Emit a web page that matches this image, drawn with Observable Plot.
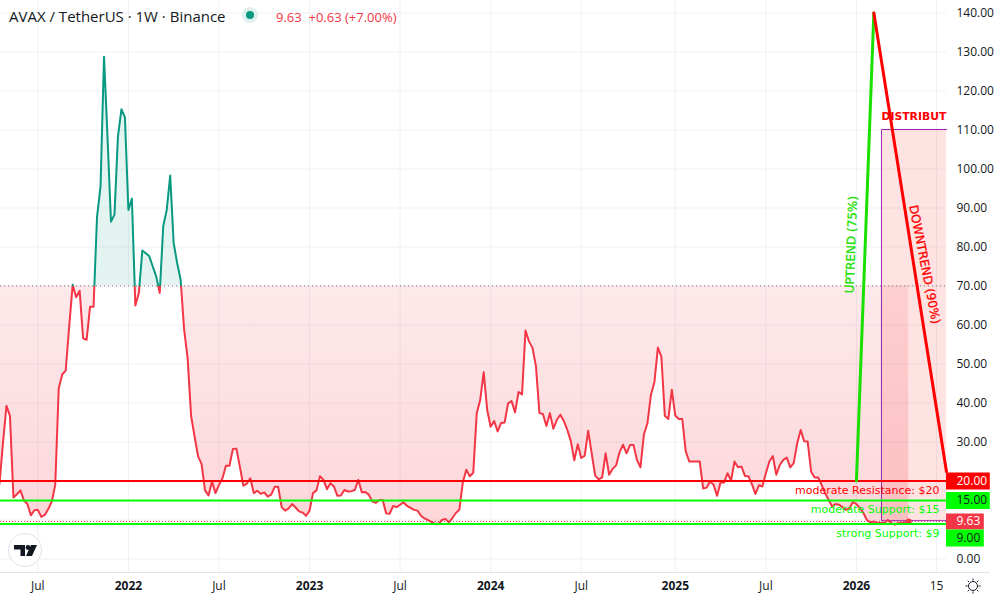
<!DOCTYPE html>
<html lang="en">
<head>
    <meta charset="UTF-8">
    <title>AVAX / TetherUS</title>
    <script src="https://cdn.jsdelivr.net/npm/d3@7"></script>
    <script src="https://cdn.jsdelivr.net/npm/@observablehq/plot@0.6"></script>
    <style>
        body { margin: 0; background: #fff; }
        #chart { position: relative; width: 1000px; height: 600px; overflow: hidden; }
        #chart svg { display: block; }
        #legend { position: absolute; left: 9px; top: 6px; font: 15px "Open Sans", sans-serif; color: #131722; white-space: nowrap; }
        #legend .dot { position: absolute; left: 234px; top: 2px; width: 8px; height: 8px; margin: 3px; border-radius: 50%; background: #089981; box-shadow: 0 0 0 4px #dff1ee; }
        #legend .quote { position: absolute; left: 267px; top: 2px; font-size: 13px; color: #f23645; }
        #logo { position: absolute; left: 8px; top: 533px; width: 32px; height: 32px; border: 1px solid #e0e3eb; border-radius: 50%; background: #fff; }
        #sun { position: absolute; left: 965px; top: 578px; }
    </style>
</head>
<body>
    <div id="chart">
        <div id="legend">AVAX / TetherUS · 1W · Binance<span class="dot"></span><span class="quote">9.63 &nbsp;+0.63 (+7.00%)</span></div>
    </div>

    <script>
    // weekly closes
    const firstWeek = new Date("2021-04-19");
    const closes = [
        19.3, 29.8, 39.3, 36.7, 15.8, 16.6, 17.6, 15, 14.1, 11.2, 12.5, 12.6, 10.8, 11.3, 12.8, 14.7, 19, 43.8, 47.3, 48.3,
        59.6, 70.3, 67.1, 68.8, 56.6, 56.2, 64.7, 64.7, 87.8, 95.5, 128.8, 108.3, 86.5, 88.3, 108.3, 115.3, 113.3, 89.5, 92.4, 65,
        68.2, 79.1, 78.4, 77.6, 75, 72.4, 68.2, 85.3, 89.5, 98.3, 81, 75.9, 71.6, 58.8, 51.5, 36.7, 31.4, 26.3, 24.4, 17.6,
        16.3, 19.9, 16.9, 19, 20.7, 23.9, 23.9, 28.2, 28.3, 23.7, 18.8, 19.3, 20.7, 16.9, 17.5, 16.7, 17.1, 16, 16.5, 18.5,
        18.5, 13.3, 12.4, 13, 14.1, 13.2, 12.2, 11.9, 11.1, 12.4, 16.9, 17.6, 21.2, 20.3, 17.9, 19.4, 18.6, 16.2, 16.3, 17.7,
        17.3, 17.4, 17.7, 20.3, 17.1, 17.2, 16.5, 14.8, 14.4, 15.1, 15.1, 11.7, 11.6, 13.6, 13.3, 13.9, 14.5, 13.6, 13.1, 12.6,
        12.4, 11.1, 10.4, 10, 9.5, 9, 8.9, 10, 10.3, 9.4, 10.5, 11.8, 12.6, 19.6, 22.9, 21.2, 22.1, 37.4, 40.8, 47.9,
        38.2, 33.9, 35.4, 32.7, 34.9, 35, 39.9, 40.5, 37.6, 42.8, 42.2, 58.6, 55.8, 54.2, 49.4, 37.4, 37.2, 34.1, 37.4, 33.4,
        35.7, 37, 35.4, 33.1, 30.3, 25.3, 29.4, 25.9, 26.5, 32.9, 27.1, 21.4, 20.4, 20.9, 27.1, 21.6, 23.1, 24, 27.4, 29.3,
        27.1, 29.2, 29.2, 25.4, 23.5, 32, 34.8, 42.1, 45.3, 54.2, 51.9, 36.7, 35.9, 43.4, 36.7, 35.9, 35.9, 27.6, 25, 25,
        25, 25, 18.1, 18.3, 19.9, 19, 16.2, 19.7, 19.6, 22, 20.1, 25, 23.5, 23.7, 21.3, 21.2, 19.2, 16.7, 18.9, 18.6,
        22, 25, 26.4, 21.6, 24.1, 25.4, 26, 23.5, 24.6, 29.7, 33.1, 30.2, 30.1, 22.4, 20.9, 20.9, 19, 16.9, 15.2, 13.5,
        14.1, 13.9, 13.3, 12.6, 13, 14.6, 14.1, 13, 11.8, 10, 9.4, 9.6, 9.2, 9.2, 9.2, 10, 9.2, 8.8, 9.2, 9.2,
        9.4, 9.63
    ];
    const priceWeeks = closes.map((_, i) => d3.utcDay.offset(firstWeek, i * 7));
    const lastWeek = priceWeeks[priceWeeks.length - 1];
    const lastClose = 9.63;
    const baseline = 70;

    // time axis
    const xTickDates = ["2021-07-05", "2022-01-03", "2022-07-04", "2023-01-02", "2023-07-03", "2024-01-01", "2024-07-01", "2025-01-06", "2025-07-07", "2026-01-05", "2026-06-15"].map(d => new Date(d));
    const xTickLabels = ["Jul", "2022", "Jul", "2023", "Jul", "2024", "Jul", "2025", "Jul", "2026", "15"];
    const yearLabels = ["2022", "2023", "2024", "2025", "2026"];
    const xTickText = new Map(xTickDates.map((d, i) => [+d, xTickLabels[i]]));
    const yTicks = d3.range(0, 150, 10);
    // 10 and 20 sit under the price tags, no label there
    const yTickLabels = yTicks.filter(d => d !== 10 && d !== 20);
    const yMin = -3.46;
    const yMax = 143.2;
    const paneStart = new Date("2021-04-21");
    const paneEnd = new Date("2026-07-05");
    const tagEnd = new Date("2026-10-01");
    const shortTagEnd = new Date("2026-09-19");

    // drawings on the chart
    const levels = [
        {price: 20, color: "#ff0000", tag: "20.00", label: "moderate Resistance: $20", labelY: 17.5},
        {price: 15, color: "#00ff00", tag: "15.00", label: "moderate Support: $15", labelY: 12.6},
        {price: 9, color: "#00ff00", tag: "9.00", label: "strong Support: $9", labelY: 6.5}
    ];
    const labelEnd = new Date("2026-06-21");
    const uptrendDates = [new Date("2026-01-05"), new Date("2026-02-09")];
    const uptrendPrices = [20, 140];
    const downtrendDates = [new Date("2026-02-09"), paneEnd];
    const downtrendPrices = [140, 22.4];
    const boxStart = new Date("2026-02-24T08:00Z");
    const boxTop = 110;
    const boxBottom = 9.7;

    const chart = Plot.plot({
        width: 1000,
        height: 600,
        marginLeft: 0,
        marginRight: 54,
        marginTop: 0,
        marginBottom: 28,
        style: {background: "#fff", fontFamily: "'Open Sans', sans-serif", fontSize: "12px", color: "#131722"},
        x: {type: "utc", domain: [paneStart, paneEnd]},
        y: {domain: [yMin, yMax], range: [572, 0]},
        marks: [
            Plot.ruleX(xTickDates, {stroke: "#f0f1f5"}),
            Plot.ruleY(yTicks, {stroke: "#f0f1f5"}),
            Plot.areaY(closes, {x: priceWeeks, y1: baseline, y2: closes, fill: "url(#priceFill)"}),
            Plot.rect([boxTop], {x1: boxStart, x2: paneEnd, y1: boxBottom, y2: boxTop, fill: "#ff0000", fillOpacity: 0.11}),
            Plot.line([[paneEnd, boxTop], [boxStart, boxTop], [boxStart, boxBottom], [paneEnd, boxBottom]], {x: "0", y: "1", stroke: "#9c27b0", strokeWidth: 1, dy: -0.5}),
            Plot.ruleY([baseline], {stroke: "#787b86", strokeDasharray: "1,3"}),
            Plot.ruleY([lastClose], {stroke: "#f23645", strokeDasharray: "1,2"}),
            Plot.line(closes, {x: priceWeeks, y: closes, stroke: "url(#priceStroke)", strokeWidth: 2, strokeLinejoin: "round"}),
            Plot.dot([lastClose], {x: lastWeek, y: lastClose, r: 3, fill: "#f23645"}),
            Plot.ruleY(levels, {y: "price", stroke: "color", strokeWidth: 2}),
            Plot.line(uptrendPrices, {x: uptrendDates, y: uptrendPrices, stroke: "#19e000", strokeWidth: 3}),
            Plot.line(downtrendPrices, {x: downtrendDates, y: downtrendPrices, stroke: "#ff0000", strokeWidth: 3}),

            Plot.text(levels, {x: labelEnd, y: "labelY", text: "label", fill: "color", textAnchor: "end", fontFamily: "'DejaVu Sans', sans-serif", fontSize: 11}),
            Plot.text(["UPTREND (75%)"], {x: new Date("2025-12-26"), y: 80.6, rotate: -88, fill: "#19e000", stroke: "#19e000", strokeWidth: 0.3, fontFamily: "'DejaVu Sans', sans-serif", fontSize: 12}),
            Plot.text(["DOWNTREND (90%)"], {x: new Date("2026-05-22"), y: 75.5, rotate: 79, fill: "#ff0000", stroke: "#ff0000", strokeWidth: 0.3, fontFamily: "'DejaVu Sans', sans-serif", fontSize: 12}),
            Plot.text(["DISTRIBUT"], {x: boxStart, y: 113.4, textAnchor: "start", fill: "#ff0000", fontWeight: "bold", fontFamily: "'DejaVu Sans', sans-serif", fontSize: 10.8}),

            // bottom time scale
            Plot.ruleY([yMin], {x1: paneStart, x2: tagEnd, stroke: "#e0e3eb"}),
            Plot.axisX(xTickDates.filter(d => !yearLabels.includes(xTickText.get(+d))), {anchor: "bottom", tickSize: 0, tickPadding: 9, label: null, tickFormat: d => xTickText.get(+d), fontSize: 12, fill: "#131722"}),
            Plot.axisX(xTickDates.filter(d => yearLabels.includes(xTickText.get(+d))), {anchor: "bottom", tickSize: 0, tickPadding: 9, label: null, tickFormat: d => xTickText.get(+d), fontSize: 12, fontWeight: "bold", fill: "#131722"}),

            // price scale with its tags
            Plot.axisY(yTickLabels, {anchor: "right", tickSize: 0, tickPadding: 10, label: null, tickFormat: d => d.toFixed(2), fontSize: 12, fill: "#131722"}),
            Plot.ruleY(levels.slice(0, 2), {y: "price", x1: paneEnd, x2: tagEnd, stroke: "color", strokeWidth: 17}),
            Plot.ruleY([lastClose], {x1: paneEnd, x2: shortTagEnd, stroke: "#f23645", strokeWidth: 16}),
            Plot.ruleY([9], {x1: paneEnd, x2: shortTagEnd, stroke: "#00ff00", strokeWidth: 17, dy: 14}),
            Plot.text(levels.slice(0, 2), {x: paneEnd, y: "price", text: "tag", textAnchor: "start", dx: 10, fill: d => d.color === "#ff0000" ? "#fff" : "#131722", fontSize: 12}),
            Plot.text(["9.63"], {x: paneEnd, y: lastClose, textAnchor: "start", dx: 10, fill: "#fff", fontSize: 12}),
            Plot.text(["9.00"], {x: paneEnd, y: 9, dy: 14, textAnchor: "start", dx: 10, fill: "#131722", fontSize: 12})
        ]
    });

    // baseline fill: green above 70, red below, hard switch at the baseline
    const yScale = chart.scale("y");
    const baseY = yScale.apply(baseline);
    const lowY = yScale.apply(8.9);
    const split = baseY / lowY;
    const defs = d3.select(chart).insert("defs", ":first-child");
    const addGradient = (id, stops) => {
        defs.append("linearGradient")
            .attr("id", id)
            .attr("gradientUnits", "userSpaceOnUse")
            .attr("x1", 0).attr("x2", 0)
            .attr("y1", 0).attr("y2", lowY)
            .selectAll("stop").data(stops).join("stop")
            .attr("offset", d => d[0])
            .attr("stop-color", d => d[1])
            .attr("stop-opacity", d => d[2]);
    };
    addGradient("priceFill", [[0, "#089981", 0.11], [split, "#089981", 0.11], [split, "#f23645", 0.11], [1, "#f23645", 0.2]]);
    addGradient("priceStroke", [[0, "#089981", 1], [split, "#089981", 1], [split, "#f23645", 1], [1, "#f23645", 1]]);

    const root = document.querySelector("#chart");
    root.prepend(chart);

    root.insertAdjacentHTML("beforeend", `
        <div id="logo"><svg width="32" height="32" viewBox="0 0 32 32"><path d="M5 11h11v11h-4.500v-6.500H5z" fill="#131722"/><circle cx="19" cy="13.500" r="2.400" fill="#131722"/><path d="M22 11h6l-5 11h-6z" fill="#131722"/></svg></div>
        <svg id="sun" width="16" height="16" viewBox="0 0 16 16" fill="none" stroke="#131722" stroke-width="1"><circle cx="8" cy="8" r="4.500"/><path d="M8 0.500v2M8 13.500v2M0.500 8h2M13.500 8h2M2.700 2.700l1.400 1.400M11.900 11.900l1.400 1.400M2.700 13.300l1.400-1.400M11.900 4.100l1.400-1.400"/></svg>`);
    </script>
</body>
</html>
